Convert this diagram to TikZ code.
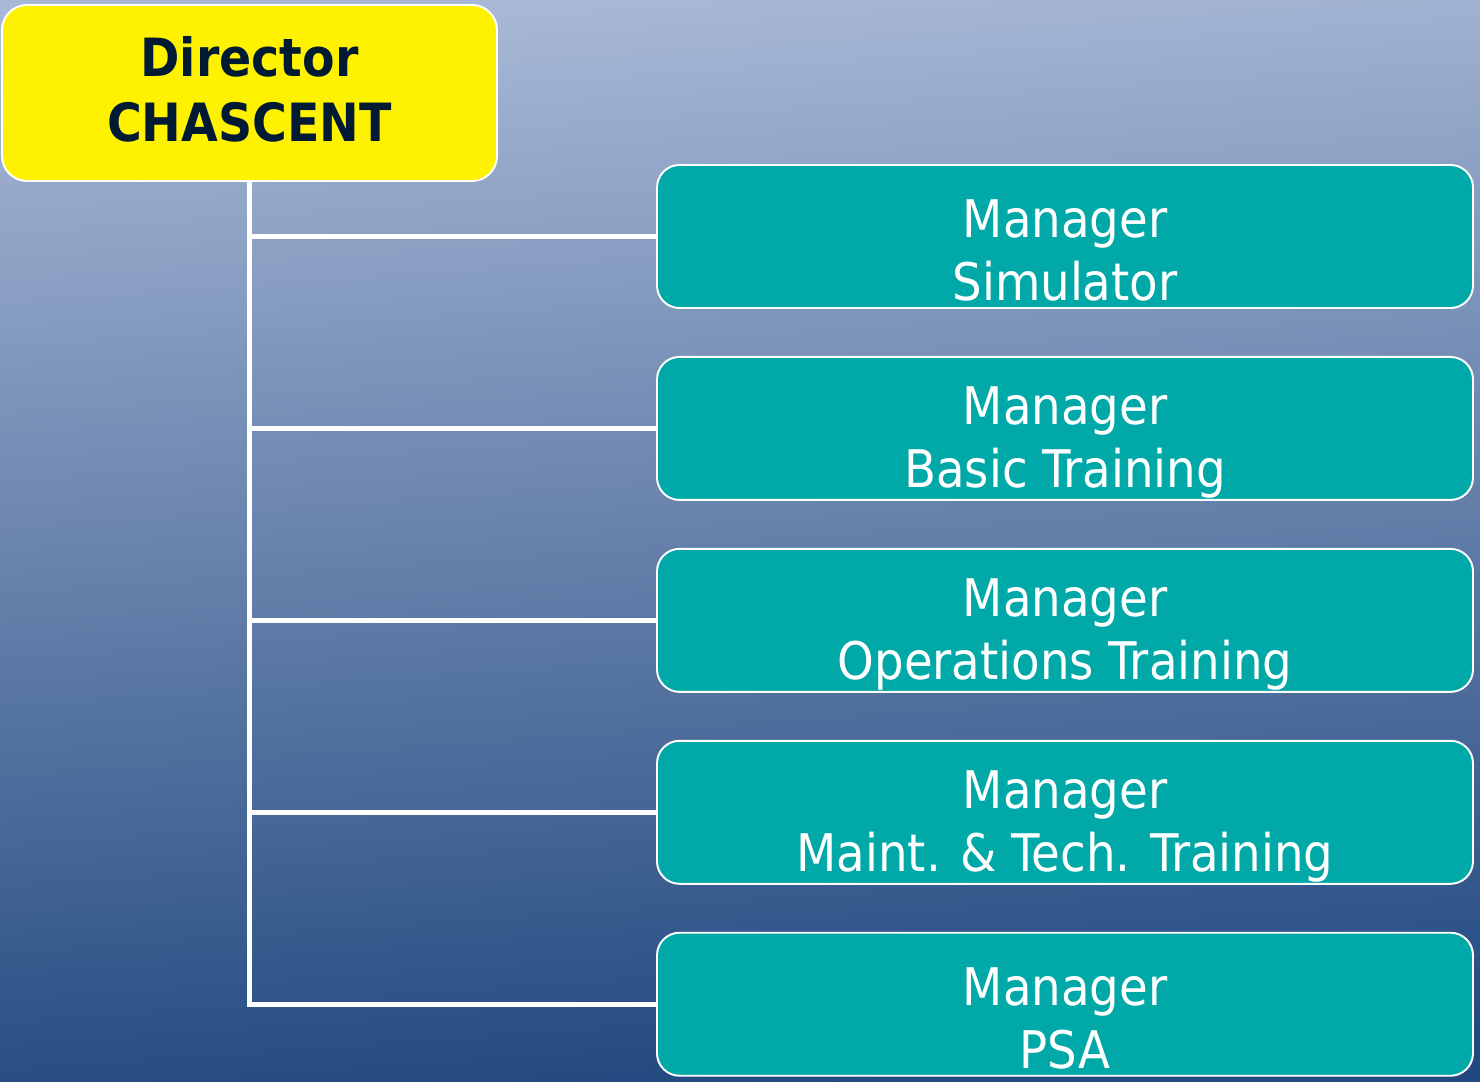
\documentclass[tikz,border=0pt]{standalone}
\usepackage{fontspec}
\setmainfont{DejaVu Sans Condensed}
\usepackage{xcolor}
\usepackage{tikz}
\usetikzlibrary{positioning}
\definecolor{skytop}{RGB}{168,184,214}
\definecolor{skybottom}{RGB}{33,72,127}
\definecolor{teal}{RGB}{0,168,168}
\definecolor{navytext}{RGB}{0,26,51}
\tikzstyle{director}=[
draw=white,
line width=1.1pt,
rounded corners=0.5cm,
minimum width=9.9cm,
minimum height=3.52cm,
text centered,
align=center,
fill=yellow,
text=navytext,
font=\fontsize{30}{37}\selectfont\bfseries
]
\tikzstyle{manager}=[
draw=white,
line width=1.1pt,
rounded corners=0.45cm,
minimum width=16.32cm,
minimum height=2.86cm,
text centered,
align=center,
fill=teal,
text=white,
font=\fontsize{29.5}{36}\selectfont
]
\tikzstyle{link}=[
white,
line width=3pt
]
% two-line box text, shifted up or down without changing the box
\newcommand{\shifted}[2]{\raisebox{#1}[\height][\depth]{#2}}
\newcommand{\twolines}[3]{\shifted{#1}{#2}\\\shifted{#1}{#3}}

\begin{document}
\begin{tikzpicture}[node distance=0.94cm]

% background
\shade[top color=skytop, bottom color=skybottom, shading angle=4]
  (0,0) rectangle (29.6,-21.62);
\useasboundingbox (0,0) rectangle (29.6,-21.62);

\node (director) [director] at (4.99,-1.86) {\twolines{0.07cm}{Director}{CHASCENT}};

\node (simulator) [manager] at (21.3,-4.73) {\twolines{-0.28cm}{Manager}{Simulator}};
\node (basic) [manager, below=of simulator] {\twolines{-0.28cm}{Manager}{Basic Training}};
\node (operations) [manager, below=of basic] {\twolines{-0.28cm}{Manager}{Operations Training}};
\node (maint) [manager, below=of operations] {\twolines{-0.28cm}{Manager}{Maint. \& Tech. Training}};
\node (psa) [manager, below=of maint] {\twolines{-0.28cm}{Manager}{PSA}};

\draw [link] (director.south) |- (psa.west);
\draw [link] (director.south |- simulator.west) -- (simulator.west);
\draw [link] (director.south |- basic.west) -- (basic.west);
\draw [link] (director.south |- operations.west) -- (operations.west);
\draw [link] (director.south |- maint.west) -- (maint.west);

\end{tikzpicture}
\end{document}
